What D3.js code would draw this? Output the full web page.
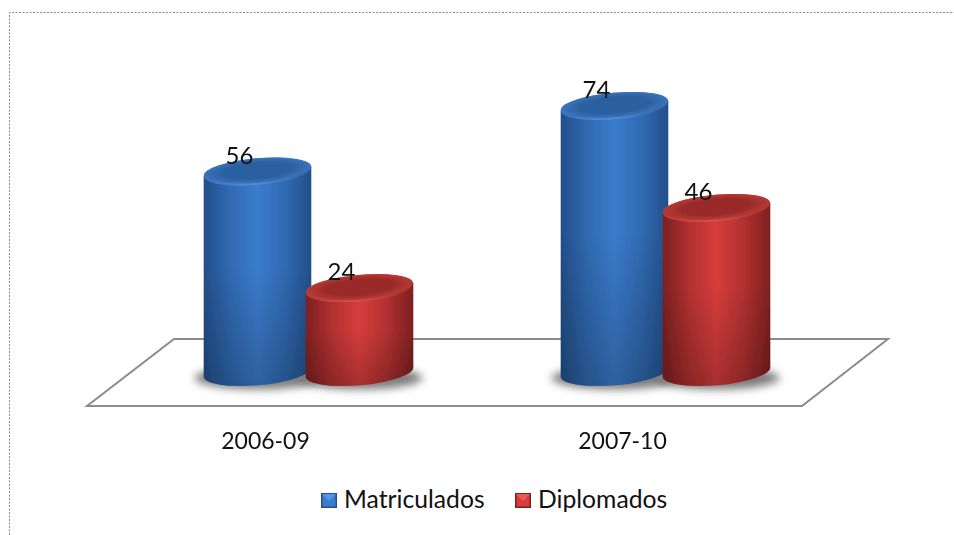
<!DOCTYPE html>
<html>
<head>
<meta charset="utf-8">
<script src="https://cdn.jsdelivr.net/npm/d3@7"></script>
<style>
  html, body { margin: 0; padding: 0; background: #fff; }
  svg { display: block; }
  text { font-family: Lato, "Open Sans", sans-serif; fill: #111; }
</style>
</head>
<body>
<svg id="chart"></svg>
<script>
const categories = ["2006-09", "2007-10"];
const seriesNames = ["Matriculados", "Diplomados"];
const matriculados = [56, 74];
const diplomados = [24, 46];

const width = 954, height = 535;
const tilt = -5, tiltRad = tilt * Math.PI / 180;
const baseY = 372, rx = 54, ry = 13.3;

const svg = d3.select("#chart").attr("width", width).attr("height", height);
const defs = svg.append("defs");

const colors = {
    Matriculados: {edge: "#234f8a", mid: "#3b7ccd", topDark: "#2c609f", topLight: "#3a74bd", rim: "#4f8fd8", tri: "#4f97e6"},
    Diplomados: {edge: "#7c2020", mid: "#d63d3c", topDark: "#9a2c29", topLight: "#b83a36", rim: "#dc4f4a", tri: "#ea5a55"}
};

seriesNames.forEach(name => {
    const c = colors[name];
    const body = defs.append("linearGradient").attr("id", "body" + name);
    body.append("stop").attr("offset", "0%").attr("stop-color", c.edge);
    body.append("stop").attr("offset", "25%").attr("stop-color", d3.interpolateRgb(c.edge, c.mid)(0.6));
    body.append("stop").attr("offset", "50%").attr("stop-color", c.mid);
    body.append("stop").attr("offset", "75%").attr("stop-color", d3.interpolateRgb(c.edge, c.mid)(0.6));
    body.append("stop").attr("offset", "100%").attr("stop-color", c.edge);

    const top = defs.append("radialGradient").attr("id", "top" + name);
    top.append("stop").attr("offset", "0%").attr("stop-color", c.topDark);
    top.append("stop").attr("offset", "65%").attr("stop-color", c.topDark);
    top.append("stop").attr("offset", "100%").attr("stop-color", c.topLight);

    const rim = defs.append("linearGradient").attr("id", "rim" + name);
    rim.append("stop").attr("offset", "0%").attr("stop-color", c.topLight);
    rim.append("stop").attr("offset", "45%").attr("stop-color", c.rim);
    rim.append("stop").attr("offset", "100%").attr("stop-color", c.topDark);
});

// body gets darker near the floor
const fade = defs.append("linearGradient").attr("id", "fade")
    .attr("x1", 0).attr("y1", 0).attr("x2", 0).attr("y2", 1);
fade.append("stop").attr("offset", "0%").attr("stop-color", "#000").attr("stop-opacity", 0);
fade.append("stop").attr("offset", "45%").attr("stop-color", "#000").attr("stop-opacity", 0);
fade.append("stop").attr("offset", "100%").attr("stop-color", "#000").attr("stop-opacity", 0.22);

defs.append("filter").attr("id", "blur")
    .attr("x", "-30%").attr("y", "-60%").attr("width", "160%").attr("height", "220%")
    .append("feGaussianBlur").attr("stdDeviation", 4.5);
defs.append("filter").attr("id", "soft")
    .append("feGaussianBlur").attr("stdDeviation", 0.5);

// dotted frame, only left and top are inside the picture
svg.append("path")
    .attr("d", `M9.5,${height} V12.5 H${width}`)
    .attr("fill", "none")
    .attr("stroke", "#8a8a8a")
    .attr("stroke-width", 1)
    .attr("stroke-dasharray", "2,1.5");

const x0 = d3.scaleBand().domain(categories).range([130, 844]);
const x1 = d3.scaleBand().domain(seriesNames).range([-102, 102]);
const y = d3.scaleLinear().domain([1, 74]).range([baseY, 106]);

// floor
svg.append("path")
    .attr("d", "M87,406 H802 L888,339 H174 Z")
    .attr("fill", "#fff")
    .attr("stroke", "#8c8c8c")
    .attr("stroke-width", 2);

const rows = categories.flatMap((cat, i) => [
    {cat: cat, name: seriesNames[0], value: matriculados[i]},
    {cat: cat, name: seriesNames[1], value: diplomados[i]}
]);
const cx = d => x0(d.cat) + x0.bandwidth() / 2 + x1(d.name) + x1.bandwidth() / 2;

// shadow under each cylinder
svg.append("g").selectAll("ellipse").data(rows).enter().append("ellipse")
    .attr("cx", cx)
    .attr("cy", baseY + 6)
    .attr("rx", rx + 9)
    .attr("ry", ry - 2)
    .attr("fill", "#7a7a7a")
    .attr("filter", "url(#blur)");

const dx = rx * Math.cos(tiltRad), dy = rx * Math.sin(tiltRad);
const bodyPath = d => {
    const c = cx(d), t = y(d.value);
    return `M${c - dx},${t - dy} L${c - dx},${baseY - dy}` +
        ` A${rx},${ry} ${tilt} 0 0 ${c + dx},${baseY + dy}` +
        ` L${c + dx},${t + dy} Z`;
};

const bars = svg.append("g").attr("filter", "url(#soft)")
    .selectAll("g").data(rows).enter().append("g");

bars.append("path")
    .attr("d", bodyPath)
    .attr("fill", d => `url(#body${d.name})`);
bars.append("path")
    .attr("d", bodyPath)
    .attr("fill", "url(#fade)");

// lighter rim, then the top face a little above it
bars.append("ellipse")
    .attr("rx", rx).attr("ry", ry)
    .attr("transform", d => `translate(${cx(d)},${y(d.value)}) rotate(${tilt})`)
    .attr("fill", d => `url(#rim${d.name})`);

bars.append("ellipse")
    .attr("rx", rx - 0.5).attr("ry", ry - 1)
    .attr("transform", d => `translate(${cx(d)},${y(d.value) - 1}) rotate(${tilt})`)
    .attr("fill", d => `url(#top${d.name})`);

// value labels
svg.append("g").selectAll("text").data(rows).enter().append("text")
    .attr("x", d => cx(d) - 18)
    .attr("y", d => y(d.value) - 8)
    .attr("text-anchor", "middle")
    .attr("font-size", 24)
    .text(d => d.value);

// category labels
svg.append("g").selectAll("text").data(categories).enter().append("text")
    .attr("x", d => x0(d) + x0.bandwidth() / 2 - 43)
    .attr("y", 449)
    .attr("text-anchor", "middle")
    .attr("font-size", 23)
    .text(d => d);

// legend
const legendX = d3.scaleOrdinal().domain(seriesNames).range([321, 515]);
const legend = svg.append("g").selectAll("g").data(seriesNames).enter().append("g")
    .attr("transform", d => `translate(${legendX(d)},493)`);

legend.append("rect")
    .attr("width", 16).attr("height", 15)
    .attr("fill", d => colors[d].edge);
legend.append("rect")
    .attr("x", 1.5).attr("y", 1.5).attr("width", 13).attr("height", 12)
    .attr("fill", d => colors[d].mid);
legend.append("path")
    .attr("d", "M1,1 H15 L8,8 Z")
    .attr("fill", d => colors[d].tri);
legend.append("text")
    .attr("x", 23)
    .attr("y", 15)
    .attr("font-size", 24.7)
    .text(d => d);
</script>
</body>
</html>
